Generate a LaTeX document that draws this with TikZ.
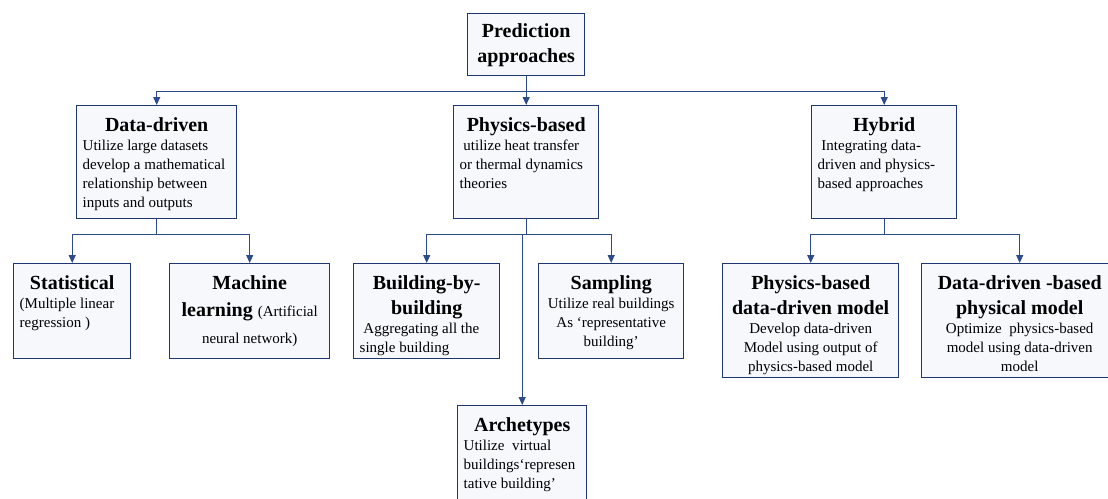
\documentclass[tikz,border=0pt]{standalone}
\usepackage{fontspec}
\setmainfont{Liberation Serif}
\usepackage{tikz}
\usetikzlibrary{arrows.meta}
\definecolor{navy}{RGB}{30,55,112}
\definecolor{wire}{RGB}{45,75,140}
\definecolor{boxfill}{RGB}{246,248,252}
\newcommand{\ttl}{\fontsize{20}{25}\selectfont\bfseries}
\newcommand{\txt}{\fontsize{15}{19}\selectfont\mdseries}
\newcommand{\boxtext}[3]{\parbox[c][\dimexpr#2pt-24pt][t]{\dimexpr#1pt-12pt}{#3}}

\begin{document}
\begin{tikzpicture}[x=1pt,y=-1pt,
box/.style={draw=navy,line width=1.4pt,fill=boxfill,inner xsep=6pt,inner ysep=12pt,anchor=north west},
arr/.style={draw=wire,line width=1.1pt,-{Triangle[width=7pt,length=8pt]}}]
\clip (0,0) rectangle (1108,498);
\node (pred) at (467,13) [box,inner sep=0pt,minimum width=117pt,minimum height=62pt,align=center,font=\ttl] {Prediction\\approaches};
\node (dd) at (76,105) [box] {\boxtext{160}{113}{{\centering\ttl Data-driven\par}\txt Utilize large datasets\\develop a mathematical\\relationship between\\inputs and outputs}};
\node (phys) at (453,105) [box] {\boxtext{145}{113}{{\centering\ttl Physics-based\par}\txt ~utilize heat transfer\\or thermal dynamics\\theories}};
\node (hyb) at (811,105) [box] {\boxtext{145}{113}{{\centering\ttl Hybrid\par}\txt ~Integrating data-\\driven and physics-\\based approaches}};

\node (stat) at (13,263) [box] {\boxtext{117}{95}{{\centering\ttl Statistical\par}\txt (Multiple linear\\regression~)}};
\node (ml) at (169,263) [box] {\boxtext{160}{95}{\centering\ttl Machine\\[2pt]learning {\txt (Artificial}\\[2pt]{\txt neural network)}\par}};
\node (bld) at (353,263) [box] {\boxtext{146}{95}{{\centering\ttl Building-by-\\building\par}\txt ~Aggregating all the\\single building}};
\node (samp) at (538,263) [box] {\boxtext{145}{95}{\centering{\ttl Sampling\par}\txt Utilize real buildings\\As ‘representative\\building’\par}};
\node (arch) at (457,405) [box] {\boxtext{129}{110}{{\centering\ttl Archetypes\par}\txt Utilize~~virtual\\buildings‘represen\\tative building’}};
\node (pbdd) at (722,263) [box] {\boxtext{176}{114}{\centering{\ttl Physics-based\\data-driven model\par}\txt Develop data-driven\\Model using output of\\physics-based model\par}};
\node (ddpb) at (921,263) [box] {\boxtext{196}{114}{\centering{\ttl Data-driven -based\\physical model\par}\txt Optimize~~physics-based\\model using data-driven\\model\par}};

\draw[arr] (pred.south) -- ++(0,15) -| (dd.north);
\draw[arr] (pred.south) -- (phys.north);
\draw[arr] (pred.south) -- ++(0,15) -| (hyb.north);
\draw[arr] (dd.south) -- ++(0,15) -| (stat.north);
\draw[arr] (dd.south) -- ++(0,15) -| (ml.north);
\draw[arr] (phys.south) -- ++(0,15) -| (bld.north);
\draw[arr] (phys.south) -- ++(0,15) -| (samp.north);
\draw[arr] (phys.south) -- ++(0,15) -| (arch.north);
\draw[arr] (hyb.south) -- ++(0,15) -| (pbdd.north);
\draw[arr] (hyb.south) -- ++(0,15) -| (ddpb.north);

\end{tikzpicture}
\end{document}
